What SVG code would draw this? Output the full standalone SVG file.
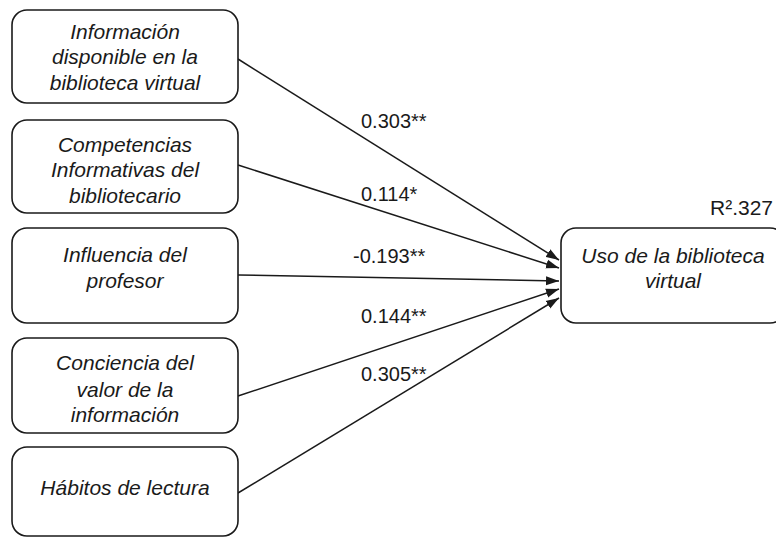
<svg xmlns="http://www.w3.org/2000/svg" width="776" height="537" viewBox="0 0 776 537">
<defs>
<marker id="arr" markerUnits="userSpaceOnUse" markerWidth="14" markerHeight="10" refX="13" refY="5" orient="auto">
<path d="M0,0.5 L13,5 L0,9.5 Z" fill="#1a1a1a"/>
</marker>
<style>
.box{fill:#fff;stroke:#1a1a1a;stroke-width:1.6}
.bt{font-family:"Liberation Sans",Arial,sans-serif;font-style:italic;font-size:21px;fill:#1a1a1a;text-anchor:middle}
.lb{font-family:"Liberation Sans",Arial,sans-serif;font-size:20px;fill:#1a1a1a}
.ed{stroke:#1a1a1a;stroke-width:1.5;fill:none;marker-end:url(#arr)}
</style>
</defs>
<rect width="776" height="537" fill="#fff"/>
<g id="connectors">
<line class="ed" x1="238" y1="59" x2="559" y2="260"/>
<line class="ed" x1="238" y1="165" x2="559" y2="268"/>
<line class="ed" x1="238" y1="275" x2="559" y2="281"/>
<line class="ed" x1="238" y1="396" x2="559" y2="289"/>
<line class="ed" x1="238" y1="493" x2="559" y2="298"/>
<text class="lb" x="361" y="128">0.303**</text>
<text class="lb" x="361" y="201">0.114*</text>
<text class="lb" x="353" y="263">-0.193**</text>
<text class="lb" x="361" y="323">0.144**</text>
<text class="lb" x="361" y="381">0.305**</text>
</g>
<g id="n1">
<rect class="box" x="12" y="10" width="226" height="93" rx="15"/>
<text class="bt" x="125" y="39">Información</text>
<text class="bt" x="125" y="64">disponible en la</text>
<text class="bt" x="125" y="90">biblioteca virtual</text>
</g>
<g id="n2">
<rect class="box" x="12" y="120" width="226" height="93" rx="15"/>
<text class="bt" x="125" y="152">Competencias</text>
<text class="bt" x="125" y="177">Informativas del</text>
<text class="bt" x="125" y="203">bibliotecario</text>
</g>
<g id="n3">
<rect class="box" x="12" y="228" width="226" height="95" rx="15"/>
<text class="bt" x="125" y="262">Influencia del</text>
<text class="bt" x="125" y="288">profesor</text>
</g>
<g id="n4">
<rect class="box" x="12" y="338" width="226" height="95" rx="15"/>
<text class="bt" x="125" y="370">Conciencia del</text>
<text class="bt" x="125" y="397">valor de la</text>
<text class="bt" x="125" y="422">información</text>
</g>
<g id="n5">
<rect class="box" x="12" y="447" width="226" height="89" rx="15"/>
<text class="bt" x="125" y="495">Hábitos de lectura</text>
</g>
<g id="n6">
<rect class="box" x="561" y="228" width="224" height="95" rx="15"/>
<text class="bt" x="673" y="263">Uso de la biblioteca</text>
<text class="bt" x="673" y="288">virtual</text>
<text class="lb" x="773" y="215" text-anchor="end" style="font-size:21px">R².327</text>
</g>
</svg>
